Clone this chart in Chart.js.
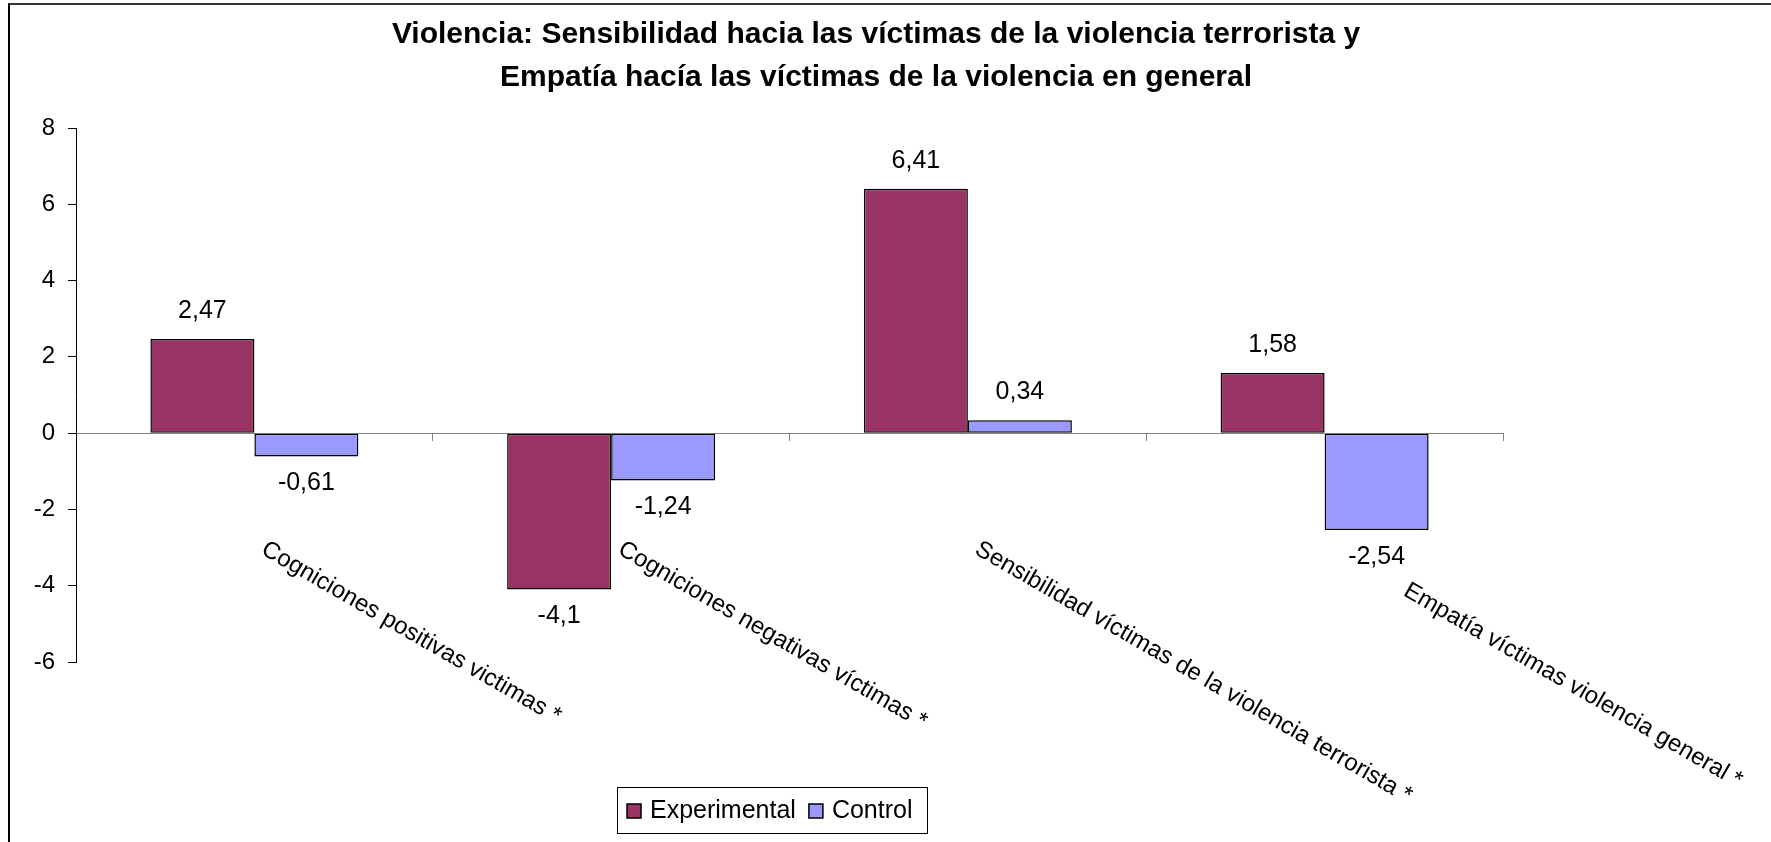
<!DOCTYPE html>
<html>
<head>
<meta charset="utf-8">
<script src="https://cdn.jsdelivr.net/npm/chart.js@4/dist/chart.umd.min.js"></script>
<style>
  html, body { margin: 0; padding: 0; background: #fff; overflow: hidden; }
  #wrap { position: relative; width: 1771px; height: 842px; }
  #frame { position: absolute; left: 8px; top: 3px; right: 0; bottom: 0; border-left: 2px solid #000; border-top: 2px solid #333; pointer-events: none; }
  canvas { position: absolute; left: 0; top: 0; }
</style>
</head>
<body>
<div id="wrap">
  <canvas id="chart" width="1771" height="842"></canvas>
  <div id="frame"></div>
</div>
<script>
// Chart content
const titleLines = [
  'Violencia: Sensibilidad hacia las víctimas de la violencia terrorista y',
  'Empatía hacía las víctimas de la violencia en general'
];
const categories = [
  'Cogniciones positivas victimas *',
  'Cogniciones negativas víctimas *',
  'Sensibilidad víctimas de la violencia terrorista *',
  'Empatía víctimas violencia general *'
];
const seriesNames = ['Experimental', 'Control'];
const experimental = [2.47, -4.1, 6.41, 1.58];
const control = [-0.61, -1.24, 0.34, -2.54];
const yMin = -6, yMax = 8, yStep = 2;

// Styling
const FONT = '"Liberation Sans", Arial, sans-serif';
const colors = ['#993366', '#9999FF'];
// extra lead (px, along the slanted text) before each category label
const labelLead = [0, 0, 0, 83];

const fmt = v => String(v).replace('.', ',');

const headingPlugin = {
  id: 'heading',
  afterDraw(chart) {
    const ctx = chart.ctx;
    ctx.save();
    ctx.fillStyle = '#000';
    ctx.font = 'bold 30px ' + FONT;
    ctx.textAlign = 'center';
    ctx.textBaseline = 'middle';
    ctx.fillText(titleLines[0], 876, 35);
    ctx.fillText(titleLines[1], 876, 78);
    ctx.restore();
  }
};

const valueLabels = {
  id: 'valueLabels',
  afterDatasetsDraw(chart) {
    const ctx = chart.ctx;
    ctx.save();
    ctx.fillStyle = '#000';
    ctx.font = '25px ' + FONT;
    ctx.textAlign = 'center';
    ctx.textBaseline = 'middle';
    chart.data.datasets.forEach((ds, di) => {
      chart.getDatasetMeta(di).data.forEach((bar, i) => {
        const v = ds.data[i];
        const y = v >= 0 ? bar.y - 28 : bar.y + 27;
        ctx.fillText(fmt(v), bar.x, y);
      });
    });
    ctx.restore();
  }
};

const slantedCategories = {
  id: 'slantedCategories',
  afterDraw(chart) {
    const ctx = chart.ctx;
    const xs = chart.scales.x, ys = chart.scales.y;
    const y0 = ys.getPixelForValue(0);
    const ang = Math.PI / 6;
    ctx.save();
    ctx.fillStyle = '#000';
    ctx.font = '24px ' + FONT;
    ctx.textAlign = 'left';
    ctx.textBaseline = 'top';
    categories.forEach((lab, i) => {
      const cx = xs.getPixelForValue(i) + 15 + labelLead[i] * Math.cos(ang);
      const cy = y0 + 104 + labelLead[i] * Math.sin(ang);
      ctx.save();
      ctx.translate(cx, cy);
      ctx.rotate(ang);
      ctx.fillText(lab, 0, 0);
      ctx.restore();
    });
    ctx.restore();
  }
};

const boxLegend = {
  id: 'boxLegend',
  afterDraw(chart) {
    const ctx = chart.ctx;
    const left = 617, top = 787, width = 310, height = 46;
    ctx.save();
    ctx.strokeStyle = '#000';
    ctx.lineWidth = 1;
    ctx.strokeRect(left + 0.5, top + 0.5, width, height);
    ctx.font = '25px ' + FONT;
    ctx.textBaseline = 'middle';
    ctx.textAlign = 'left';
    let x = left + 10;
    const cy = top + height / 2 + 1;
    chart.data.datasets.forEach((ds, di) => {
      ctx.fillStyle = ds.backgroundColor;
      ctx.fillRect(x, cy - 7, 14, 14);
      ctx.strokeStyle = '#000';
      ctx.lineWidth = 1.5;
      ctx.strokeRect(x, cy - 7, 14, 14);
      ctx.fillStyle = '#000';
      ctx.fillText(ds.label, x + 23, cy);
      x += 23 + ctx.measureText(ds.label).width + 13;
    });
    ctx.restore();
  }
};

new Chart(document.getElementById('chart'), {
  type: 'bar',
  data: {
    labels: categories,
    datasets: [
      { label: seriesNames[0], data: experimental, backgroundColor: colors[0], borderColor: '#000', borderWidth: 1.5, borderSkipped: false },
      { label: seriesNames[1], data: control, backgroundColor: colors[1], borderColor: '#000', borderWidth: 1.5, borderSkipped: false }
    ]
  },
  options: {
    responsive: false,
    animation: false,
    events: [],
    layout: { padding: { left: 0, top: 128, right: 268, bottom: 180 } },
    datasets: { bar: { categoryPercentage: 0.583, barPercentage: 1.0 } },
    plugins: { legend: { display: false }, title: { display: false }, tooltip: { enabled: false } },
    scales: {
      x: {
        type: 'category',
        position: { y: 0 },
        offset: true,
        grid: { offset: true, drawOnChartArea: false, drawTicks: true, tickLength: 7, color: '#808080', lineWidth: 1 },
        border: { display: true, color: '#808080', width: 1 },
        ticks: { display: false }
      },
      y: {
        min: yMin, max: yMax,
        afterFit: s => { s.width = 76; },
        ticks: { stepSize: yStep, color: '#000', font: { family: FONT, size: 24 }, padding: 13 },
        grid: { drawOnChartArea: false, drawTicks: true, tickLength: 8, color: '#000', lineWidth: 1 },
        border: { display: true, color: '#000', width: 1 }
      }
    }
  },
  plugins: [headingPlugin, valueLabels, slantedCategories, boxLegend]
});
</script>
</body>
</html>
